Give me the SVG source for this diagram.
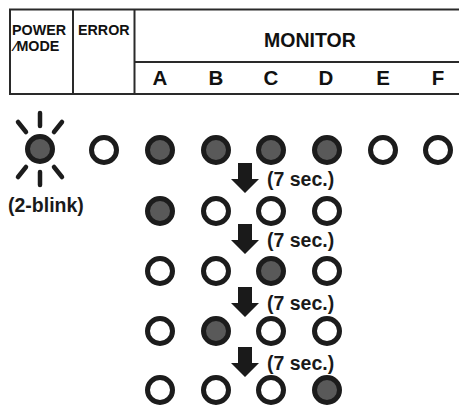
<svg xmlns="http://www.w3.org/2000/svg" xmlns:xlink="http://www.w3.org/1999/xlink" width="459" height="406" viewBox="0 0 459 406">
<defs>
<style>
.tl{stroke:#2a2a2a;stroke-width:2;fill:none}
.hd{font-family:"Liberation Sans",Arial,sans-serif;font-weight:bold;fill:#111}
.led{stroke:#1c1c1c;stroke-width:5}
.on{fill:#595959}
.off{fill:#fff}
.ray{stroke:#1c1c1c;stroke-width:4.5;stroke-linecap:round}
.arr{fill:#1a1a1a}
.lbl{font-family:"Liberation Sans",Arial,sans-serif;font-weight:bold;font-size:19.5px;fill:#1a1a1a}
</style>
<path id="arrow" d="M-7,0 H7 V16 H14 L0,30 L-14,16 H-7 Z"/>
</defs>
<rect width="459" height="406" fill="#fff"/>
<g id="table">
<line class="tl" x1="9" y1="9.5" x2="459" y2="9.5"/>
<line class="tl" x1="9" y1="94" x2="459" y2="94"/>
<line class="tl" x1="134.5" y1="62" x2="459" y2="62"/>
<line class="tl" x1="10" y1="9" x2="10" y2="95"/>
<line class="tl" x1="73" y1="9" x2="73" y2="95"/>
<line class="tl" x1="134.5" y1="9" x2="134.5" y2="95"/>
<text class="hd" x="12" y="35" font-size="14.3">POWER</text>
<text class="hd" x="14" y="51" font-size="14.3">∕MODE</text>
<text class="hd" x="78" y="35" font-size="14.3">ERROR</text>
<text class="hd" x="264" y="47" font-size="19.5">MONITOR</text>
<g text-anchor="middle" font-size="20.5">
<text class="hd" x="160" y="85">A</text>
<text class="hd" x="216" y="85">B</text>
<text class="hd" x="271" y="85">C</text>
<text class="hd" x="326" y="85">D</text>
<text class="hd" x="383" y="85">E</text>
<text class="hd" x="438" y="85">F</text>
</g>
</g>
<g id="power-led">
<line class="ray" x1="40" y1="113" x2="40" y2="126"/>
<line class="ray" x1="40" y1="172" x2="40" y2="185"/>
<line class="ray" x1="18" y1="122" x2="26" y2="132"/>
<line class="ray" x1="62" y1="122" x2="54" y2="132"/>
<line class="ray" x1="18" y1="177" x2="26" y2="167"/>
<line class="ray" x1="62" y1="177" x2="54" y2="167"/>
<circle class="led on" cx="40" cy="149" r="12.5"/>
<text class="lbl" x="8" y="212">(2-blink)</text>
</g>
<g id="row1">
<circle class="led off" cx="104" cy="150" r="12.5"/>
<circle class="led on" cx="160" cy="150" r="12.5"/>
<circle class="led on" cx="216" cy="150" r="12.5"/>
<circle class="led on" cx="271" cy="150" r="12.5"/>
<circle class="led on" cx="327" cy="150" r="12.5"/>
<circle class="led off" cx="383" cy="150" r="12.5"/>
<circle class="led off" cx="438" cy="150" r="12.5"/>
</g>
<g id="row2">
<circle class="led on" cx="160" cy="211" r="12.5"/>
<circle class="led off" cx="216" cy="211" r="12.5"/>
<circle class="led off" cx="271" cy="211" r="12.5"/>
<circle class="led off" cx="327" cy="211" r="12.5"/>
</g>
<g id="row3">
<circle class="led off" cx="160" cy="271" r="12.5"/>
<circle class="led off" cx="216" cy="271" r="12.5"/>
<circle class="led on" cx="271" cy="271" r="12.5"/>
<circle class="led off" cx="327" cy="271" r="12.5"/>
</g>
<g id="row4">
<circle class="led off" cx="160" cy="331" r="12.5"/>
<circle class="led on" cx="216" cy="331" r="12.5"/>
<circle class="led off" cx="271" cy="331" r="12.5"/>
<circle class="led off" cx="327" cy="331" r="12.5"/>
</g>
<g id="row5">
<circle class="led off" cx="160" cy="390" r="12.5"/>
<circle class="led off" cx="216" cy="390" r="12.5"/>
<circle class="led off" cx="271" cy="390" r="12.5"/>
<circle class="led on" cx="327" cy="390" r="12.5"/>
</g>
<g id="connectors">
<use href="#arrow" xlink:href="#arrow" class="arr" x="245" y="163"/>
<use href="#arrow" xlink:href="#arrow" class="arr" x="245" y="224"/>
<use href="#arrow" xlink:href="#arrow" class="arr" x="245" y="287"/>
<use href="#arrow" xlink:href="#arrow" class="arr" x="245" y="347"/>
<text class="lbl" x="267" y="186">(7 sec.)</text>
<text class="lbl" x="267" y="247">(7 sec.)</text>
<text class="lbl" x="267" y="310">(7 sec.)</text>
<text class="lbl" x="267" y="370">(7 sec.)</text>
</g>
</svg>
